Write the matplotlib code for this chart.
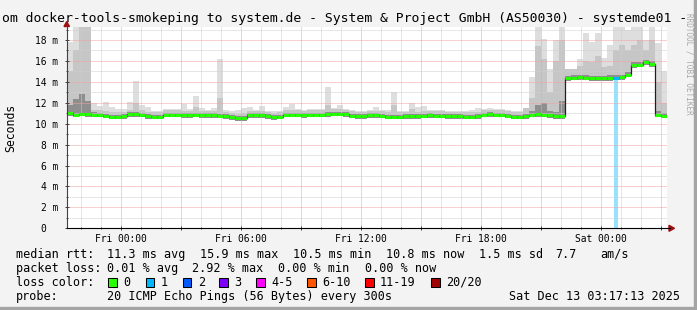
import numpy as np
import matplotlib
matplotlib.use('Agg')
import matplotlib.pyplot as plt
from matplotlib.patches import Rectangle, Polygon
from matplotlib.lines import Line2D
from matplotlib.ticker import MultipleLocator, FuncFormatter

W, H = 697, 310
FONT = 'DejaVu Sans Mono'

title = "om docker-tools-smokeping to system.de - System & Project GmbH (AS50030) - systemde01 -"
y_label = "Seconds"
watermark = "RRDTOOL / TOBI OETIKER"

# time axis: hours relative to Fri 00:00, 30 h window ending Sat 03:17:13
t_start = -2.7136
window_h = 30.0
step_h = 0.3
x_tick_hours = [0, 6, 12, 18, 24]
x_tick_labels = ["Fri 00:00", "Fri 06:00", "Fri 12:00", "Fri 18:00", "Sat 00:00"]
y_ticks = [0, 2, 4, 6, 8, 10, 12, 14, 16, 18]
y_tick_labels = ["0  ", "2 m", "4 m", "6 m", "8 m", "10 m", "12 m", "14 m", "16 m", "18 m"]

# values in ms (axis shows "m" = milli-seconds)
median = [11.0,10.85,10.95,10.9,10.85,10.85,10.75,10.65,10.65,10.7,
          10.9,10.9,10.85,10.7,10.65,10.65,10.85,10.85,10.85,10.8,
          10.8,10.85,10.8,10.8,10.8,10.75,10.7,10.6,10.5,10.55,
          10.8,10.8,10.8,10.7,10.6,10.65,10.85,10.85,10.85,10.8,
          10.85,10.85,10.85,10.9,10.95,10.95,10.9,10.75,10.7,10.7,
          10.8,10.8,10.75,10.65,10.65,10.65,10.7,10.7,10.7,10.75,
          10.8,10.75,10.75,10.7,10.7,10.7,10.65,10.65,10.7,10.85,
          10.9,10.85,10.85,10.75,10.65,10.65,10.7,10.85,10.9,10.85,
          10.8,10.7,10.7,14.35,14.4,14.45,14.4,14.35,14.35,14.35,
          14.35,14.4,14.45,14.7,15.6,15.65,15.85,15.7,10.85,10.75]

smoke_lo = [10.75,10.6,10.7,10.65,10.6,10.6,10.5,10.4,10.4,10.45,
            10.65,10.65,10.6,10.45,10.4,10.4,10.6,10.6,10.6,10.55,
            10.55,10.6,10.55,10.55,10.55,10.5,10.45,10.35,10.25,10.3,
            10.55,10.55,10.55,10.45,10.35,10.4,10.6,10.6,10.6,10.55,
            10.6,10.6,10.6,10.65,10.7,10.7,10.65,10.5,10.45,10.45,
            10.55,10.55,10.5,10.4,10.4,10.4,10.45,10.45,10.45,10.5,
            10.55,10.5,10.5,10.45,10.45,10.45,10.4,10.4,10.45,10.6,
            10.65,10.6,10.6,10.5,10.4,10.4,10.45,10.6,10.65,10.6,
            10.55,10.45,10.45,14.1,14.15,14.2,14.15,14.1,14.1,14.1,
            14.1,14.15,14.2,14.45,15.35,15.4,15.6,15.45,10.6,10.5]

smoke_dark = [11.8,12.4,12.8,12.2,11.15,11.05,10.95,10.85,10.85,10.9,
              11.1,11.1,11.05,10.9,10.85,10.85,11.05,11.05,11.05,11.0,
              11.0,11.05,11.0,11.0,11.0,10.95,10.9,10.8,10.7,10.75,
              11.0,11.0,11.0,10.9,10.8,10.85,11.05,11.05,11.05,11.0,
              11.05,11.05,11.05,11.1,11.15,11.15,11.1,10.95,10.9,10.9,
              11.0,11.0,10.95,10.85,10.85,10.85,10.9,10.9,10.9,10.95,
              11.0,10.95,10.95,10.9,10.9,10.9,10.85,10.85,10.9,11.05,
              11.1,11.05,11.05,10.95,10.85,10.85,10.9,11.2,11.8,12.0,
              11.2,11.1,12.2,14.6,14.65,14.7,14.65,14.6,14.6,14.6,
              14.65,14.7,14.7,14.95,15.85,15.9,16.1,15.95,11.2,11.0]

smoke_mid = [15.0,17.0,19.5,19.5,11.3,11.3,11.2,11.1,11.1,11.15,
             11.35,12.0,11.3,11.15,11.1,11.1,11.3,11.3,11.3,11.25,
             11.25,11.6,11.25,11.25,11.25,12.5,11.15,11.05,10.95,11.0,
             11.25,11.25,11.25,11.15,11.05,11.1,11.3,11.3,11.3,11.25,
             11.3,11.3,11.3,11.8,11.4,11.4,11.35,11.2,11.15,11.15,
             11.25,11.25,11.2,11.1,11.8,11.1,11.15,11.4,11.15,11.2,
             11.25,11.2,11.2,11.15,11.15,11.15,11.1,11.1,11.15,11.3,
             11.35,11.3,11.3,11.2,11.1,11.1,11.5,12.5,17.4,16.2,
             13.0,16.0,18.0,15.2,15.2,15.5,16.0,15.9,16.5,15.4,
             15.5,17.0,17.5,17.0,17.5,18.0,17.0,18.0,14.0,12.0]

smoke_max = [17.8,19.5,19.5,19.5,12.0,11.7,12.1,11.6,11.4,11.4,
             12.1,14.1,11.8,11.6,11.2,11.2,11.4,11.4,11.4,11.9,
             11.4,12.6,11.5,11.3,11.5,16.2,11.3,11.2,11.3,11.5,
             11.6,11.3,11.7,11.2,11.2,11.2,11.6,11.9,11.4,11.3,
             11.4,11.4,11.4,13.5,11.5,11.8,11.4,11.3,11.2,11.2,
             11.3,11.6,11.3,11.3,13.0,11.2,11.2,12.0,11.6,11.7,
             11.3,11.3,11.3,11.2,11.2,11.2,11.2,11.3,11.5,11.4,
             11.5,11.4,11.4,11.3,11.2,11.2,11.3,14.5,19.5,18.1,
             15.2,18.0,19.5,14.9,14.9,16.2,18.7,17.8,18.7,16.3,
             17.5,19.5,19.5,19.0,19.2,19.5,18.0,19.5,17.7,15.0]

# lost pings (of 20) per step
loss = [0,0,0,0,0,0,0,0,0,0, 0,0,0,0,0,0,0,0,0,0,
        0,0,0,0,0,0,0,0,0,0, 0,0,0,0,0,0,0,0,0,0,
        0,0,0,0,0,0,0,0,0,0, 0,0,0,0,0,0,0,0,0,0,
        0,0,0,0,0,0,0,0,0,0, 0,0,0,0,0,0,0,0,0,0,
        0,0,0,0,0,0,0,0,0,0, 0,1,0,0,0,0,0,0,0,0]

loss_labels = ["0", "1", "2", "3", "4-5", "6-10", "11-19", "20/20"]
loss_colors = ["#26ff00", "#00b8ff", "#0059ff", "#7e00ff", "#ff00ff", "#ff5500", "#ff0000", "#a10000"]
loss_bins = [0, 1, 2, 3, 5, 10, 19, 20]

stats_rtt = ["median rtt:", "11.3 ms avg", "15.9 ms max", "10.5 ms min", "10.8 ms now",
             "1.5 ms sd", "7.7", "am/s"]
stats_loss = ["packet loss:", "0.01 % avg", "2.92 % max", "0.00 % min", "0.00 % now"]
probe_text = ["probe:", "20 ICMP Echo Pings (56 Bytes) every 300s"]
stamp = "Sat Dec 13 03:17:13 2025"


def loss_color(n):
    for b, c in zip(loss_bins, loss_colors):
        if n <= b:
            return c
    return loss_colors[-1]


def fx(px):
    return px / W


def fy(py):
    return 1 - py / H


fig = plt.figure(figsize=(W / 100, H / 100), dpi=100, facecolor='#f3f3f3')

# frame shade
fig.patches.append(Rectangle((fx(694), 0), fx(3), 1, transform=fig.transFigure,
                             color='#a4a4a4', zorder=0))
fig.patches.append(Rectangle((0, 0), 1, 3 / H, transform=fig.transFigure,
                             color='#a4a4a4', zorder=0))

ax_l, ax_r, ax_t, ax_b = 66.7, 666.7, 27.0, 228.3
ax = fig.add_axes([fx(ax_l), fy(ax_b), fx(ax_r - ax_l), (ax_b - ax_t) / H])
ax.set_facecolor('white')
ymax = 19.24
ax.set_xlim(t_start, t_start + window_h)
ax.set_ylim(0, ymax)
for s in ax.spines.values():
    s.set_visible(False)

n = len(median)
edges = t_start + step_h * np.arange(n + 1)
med = np.array(median)

# smoke
ax.stairs(smoke_max, edges, baseline=smoke_lo, fill=True, color='#dedede', zorder=1)
ax.stairs(smoke_mid, edges, baseline=smoke_lo, fill=True, color='#c6c6c6', zorder=1.1)
ax.stairs(smoke_dark, edges, baseline=smoke_lo, fill=True, color='#8e8e8e', zorder=1.2)

# loss bars
centers = (edges[:-1] + edges[1:]) / 2
for i, l in enumerate(loss):
    if l > 0:
        ax.bar(centers[i], med[i], width=0.2, color=loss_color(l), alpha=0.4,
               linewidth=0, zorder=1.3)

# median
ax.stairs(med, edges, color='#202020', lw=0.9, baseline=None, zorder=3)
ax.hlines(med, edges[:-1], edges[1:], colors=[loss_color(l) for l in loss],
          lw=2.2, zorder=4)

# grid
ax.xaxis.set_major_locator(MultipleLocator(3))
ax.xaxis.set_minor_locator(MultipleLocator(1))
ax.yaxis.set_major_locator(MultipleLocator(2))
ax.yaxis.set_minor_locator(MultipleLocator(1))
ax.set_axisbelow(False)
dot = (0, (1, 1))
ax.grid(which='major', color='#f2a0a0', linestyle=dot, lw=0.72)
ax.grid(which='minor', color='#cfcfcf', linestyle=dot, lw=0.72)

lab_map = dict(zip(x_tick_hours, x_tick_labels))
ax.xaxis.set_major_formatter(FuncFormatter(
    lambda v, p: lab_map.get(int(round(v)), '') if abs(v - round(v)) < 1e-6 else ''))
ylab_map = dict(zip(y_ticks, y_tick_labels))
ax.yaxis.set_major_formatter(FuncFormatter(lambda v, p: ylab_map.get(int(round(v)), '')))
ax.tick_params(which='both', direction='inout', color='#404040', width=0.7,
               labelsize=6.9, labelcolor='black')
ax.tick_params(which='major', length=3)
ax.tick_params(which='minor', length=1.5)
ax.tick_params(axis='x', pad=2.5)
ax.tick_params(axis='y', pad=4.5)
for lab in ax.get_xticklabels() + ax.get_yticklabels():
    lab.set_fontfamily(FONT)

# axis lines with arrows
fig.add_artist(Line2D([fx(ax_l), fx(ax_l)], [fy(ax_b), fy(24)], color='#404040', lw=0.8,
                      transform=fig.transFigure))
fig.add_artist(Line2D([fx(ax_l), fx(670)], [fy(ax_b), fy(ax_b)], color='black', lw=0.8,
                      transform=fig.transFigure))
fig.patches.append(Polygon([(fx(64), fy(26.5)), (fx(69.5), fy(26.5)), (fx(66.7), fy(21.5))],
                           closed=True, transform=fig.transFigure, color='#a01010'))
fig.patches.append(Polygon([(fx(669), fy(225.3)), (fx(669), fy(231.3)), (fx(674.5), fy(228.3))],
                           closed=True, transform=fig.transFigure, color='#a01010'))

# texts
fig.text(fx(1.5), fy(18.5), title, fontfamily=FONT, fontsize=9.45, ha='left', va='center')
fig.text(fx(11), fy(127.5), y_label, fontfamily=FONT, fontsize=8.3, rotation=90,
         ha='center', va='center')
fig.text(fx(689.5), fy(64), watermark, fontfamily=FONT, fontsize=5.5, rotation=270,
         ha='center', va='center', color='#a8a8a8')

LS = 8.45
rtt_x = [16, 107.3, 200, 293, 386, 479.3, 555, 600]
loss_x = [16, 107.3, 192.5, 278.3, 365]
probe_x = [16, 107.3]
for y, xs, segs in ((254.3, rtt_x, stats_rtt), (268.3, loss_x, stats_loss),
                    (296.7, probe_x, probe_text)):
    for x, s in zip(xs, segs):
        fig.text(fx(x), fy(y), s, fontfamily=FONT, fontsize=LS, ha='left', va='center')
fig.text(fx(680), fy(296.7), stamp, fontfamily=FONT, fontsize=LS, ha='right', va='center')

fig.text(fx(16), fy(282.3), "loss color:", fontfamily=FONT, fontsize=LS, ha='left', va='center')
box_x = [108.3, 145.7, 182.7, 219.3, 256, 307.3, 365, 431]
for bx, lab, col in zip(box_x, loss_labels, loss_colors):
    fig.patches.append(Rectangle((fx(bx), fy(286.7)), fx(8.5), 9 / H, transform=fig.transFigure,
                                 facecolor=col, edgecolor='black', lw=0.75))
    fig.text(fx(bx + 15), fy(282.3), lab, fontfamily=FONT, fontsize=LS, ha='left', va='center')

fig.savefig('out.png', dpi=100, facecolor=fig.get_facecolor())
